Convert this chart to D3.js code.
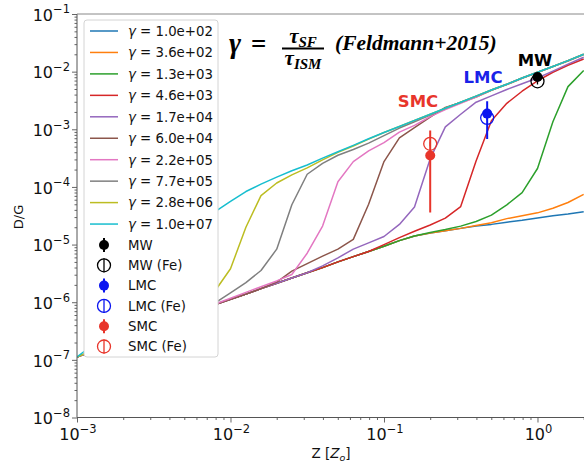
<!DOCTYPE html>
<html><head><meta charset="utf-8">
<script src="https://cdn.jsdelivr.net/npm/d3@7"></script>
<style>body{margin:0;background:#fff}svg{display:block}</style>
</head><body>
<svg id="c" width="584" height="463"></svg>
<script>
// ---------- data ----------
const zGrid = [0.001, 0.00158, 0.00251, 0.00398, 0.00631, 0.00794, 0.01, 0.0126, 0.0158, 0.02, 0.0251, 0.0316, 0.0398, 0.0501, 0.0631, 0.0794, 0.1, 0.126, 0.158, 0.2, 0.251, 0.316, 0.398, 0.501, 0.631, 0.794, 1, 1.26, 1.58, 2.0];
const gammaLabels = ["1.0e+02","3.6e+02","1.3e+03","4.6e+03","1.7e+04","6.0e+04","2.2e+05","7.7e+05","2.8e+06","1.0e+07"];
const dg_1_0e2 = [1.12e-7,1.82e-7,2.88e-7,4.57e-7,7.24e-7,9.12e-7,1.12e-6,1.38e-6,1.72e-6,2.14e-6,2.63e-6,3.24e-6,3.98e-6,5.01e-6,6.17e-6,7.59e-6,9.33e-6,1.17e-5,1.41e-5,1.58e-5,1.74e-5,1.91e-5,2.09e-5,2.24e-5,2.45e-5,2.63e-5,2.88e-5,3.16e-5,3.39e-5,3.72e-5];
const dg_3_6e2 = [1.12e-7,1.82e-7,2.88e-7,4.57e-7,7.24e-7,9.12e-7,1.12e-6,1.38e-6,1.72e-6,2.14e-6,2.63e-6,3.24e-6,3.98e-6,5.01e-6,6.17e-6,7.59e-6,9.33e-6,1.17e-5,1.41e-5,1.58e-5,1.74e-5,1.91e-5,2.14e-5,2.40e-5,2.82e-5,3.16e-5,3.55e-5,4.27e-5,5.37e-5,7.41e-5];
const dg_1_3e3 = [1.12e-7,1.82e-7,2.88e-7,4.57e-7,7.24e-7,9.12e-7,1.12e-6,1.38e-6,1.72e-6,2.14e-6,2.63e-6,3.24e-6,3.98e-6,5.01e-6,6.17e-6,7.59e-6,9.33e-6,1.17e-5,1.41e-5,1.62e-5,1.82e-5,2.09e-5,2.51e-5,3.24e-5,4.90e-5,7.94e-5,2.09e-4,1.35e-3,5.50e-3,1.05e-2];
const dg_4_6e3 = [1.12e-7,1.82e-7,2.88e-7,4.57e-7,7.24e-7,9.12e-7,1.12e-6,1.38e-6,1.72e-6,2.14e-6,2.63e-6,3.24e-6,3.98e-6,5.01e-6,6.17e-6,7.59e-6,1.00e-5,1.32e-5,1.70e-5,2.19e-5,2.88e-5,4.57e-5,2.82e-4,1.41e-3,2.82e-3,4.57e-3,6.92e-3,9.77e-3,1.29e-2,1.66e-2];
const dg_1_7e4 = [1.12e-7,1.82e-7,2.88e-7,4.57e-7,7.24e-7,9.12e-7,1.12e-6,1.38e-6,1.72e-6,2.14e-6,2.63e-6,3.24e-6,4.27e-6,5.89e-6,8.32e-6,1.07e-5,1.38e-5,2.24e-5,4.47e-5,3.09e-4,1.10e-3,1.82e-3,2.95e-3,3.80e-3,4.90e-3,6.17e-3,7.76e-3,1.02e-2,1.35e-2,1.78e-2];
const dg_6_0e4 = [1.12e-7,1.82e-7,2.88e-7,4.57e-7,7.24e-7,9.12e-7,1.12e-6,1.38e-6,1.72e-6,2.24e-6,3.47e-6,4.68e-6,6.31e-6,8.32e-6,1.23e-5,5.01e-5,2.75e-4,7.08e-4,1.07e-3,1.62e-3,2.40e-3,2.92e-3,3.63e-3,4.73e-3,5.96e-3,7.67e-3,9.66e-3,1.22e-2,1.53e-2,1.97e-2];
const dg_2_2e5 = [1.12e-7,1.82e-7,2.88e-7,4.68e-7,7.41e-7,9.33e-7,1.17e-6,1.48e-6,1.86e-6,2.34e-6,3.02e-6,7.08e-6,2.09e-5,1.23e-4,2.75e-4,4.22e-4,5.89e-4,8.91e-4,1.17e-3,1.66e-3,2.19e-3,2.82e-3,3.63e-3,4.79e-3,6.03e-3,7.76e-3,9.77e-3,1.23e-2,1.55e-2,2.00e-2];
const dg_7_7e5 = [1.12e-7,1.82e-7,2.95e-7,4.79e-7,7.76e-7,9.77e-7,1.45e-6,2.19e-6,3.55e-6,8.32e-6,4.90e-5,1.66e-4,2.57e-4,3.55e-4,4.47e-4,5.75e-4,7.76e-4,1.05e-3,1.35e-3,1.76e-3,2.32e-3,2.95e-3,3.76e-3,4.79e-3,6.03e-3,7.76e-3,9.77e-3,1.23e-2,1.55e-2,2.00e-2];
const dg_2_8e6 = [1.12e-7,1.91e-7,3.16e-7,5.37e-7,1.00e-6,1.58e-6,3.80e-6,2.00e-5,7.08e-5,1.17e-4,1.62e-4,2.14e-4,2.95e-4,3.98e-4,5.13e-4,6.76e-4,8.81e-4,1.12e-3,1.43e-3,1.82e-3,2.32e-3,2.95e-3,3.76e-3,4.79e-3,6.03e-3,7.76e-3,9.77e-3,1.23e-2,1.55e-2,2.00e-2];
const dg_1_0e7 = [1.12e-7,2.82e-7,1.78e-6,7.94e-6,2.24e-5,3.72e-5,5.62e-5,8.32e-5,1.12e-4,1.48e-4,1.91e-4,2.40e-4,3.16e-4,4.07e-4,5.25e-4,6.84e-4,8.81e-4,1.12e-3,1.43e-3,1.82e-3,2.32e-3,2.95e-3,3.76e-3,4.79e-3,6.03e-3,7.76e-3,9.77e-3,1.23e-2,1.55e-2,2.00e-2];

const obsNames = ["MW","MW (Fe)","LMC","LMC (Fe)","SMC","SMC (Fe)"];
const obsZ     = [1.0, 1.0, 0.47, 0.47, 0.2, 0.2];
const obsDG    = [8.1e-3, 6.8e-3, 1.87e-3, 1.58e-3, 3.5e-4, 5.6e-4];
const obsLo    = [7.4e-3, 6.0e-3, 6.8e-4, 1.45e-3, 3.6e-5, 5.1e-4];
const obsHi    = [8.8e-3, 7.6e-3, 3.05e-3, 1.72e-3, 9.5e-4, 6.1e-4];
const galaxyLabels = ["MW","LMC","SMC"];

const xTicks = [1e-3, 1e-2, 1e-1, 1];
const yTicks = [1e-8, 1e-7, 1e-6, 1e-5, 1e-4, 1e-3, 1e-2, 1e-1];

// ---------- styles ----------
const seriesDG = [dg_1_0e2,dg_3_6e2,dg_1_3e3,dg_4_6e3,dg_1_7e4,dg_6_0e4,dg_2_2e5,dg_7_7e5,dg_2_8e6,dg_1_0e7];
const colors = ["#1f77b4","#ff7f0e","#2ca02c","#d62728","#9467bd","#8c564b","#e377c2","#7f7f7f","#bcbd22","#17becf"];
const obsColors = ["#000000","#000000","#0a14f0","#0a14f0","#e8352b","#e8352b"];
const FONT = "DejaVu Sans, Verdana, sans-serif";

const W = 584, H = 463;
const L = 77, R = 584, T = 14, B = 417.5;
const svg = d3.select("#c");
const x = d3.scaleLog().domain([1e-3, 2]).range([L, 583.7]);
const y = d3.scaleLog().domain([1e-8, 1e-1]).range([B, T]);

svg.append("clipPath").attr("id","clip").append("rect")
  .attr("x",L).attr("y",T).attr("width",W-L).attr("height",B-T);

// curves
const plot = svg.append("g").attr("clip-path","url(#clip)");
const line = d3.line().x((d,i)=>x(zGrid[i])).y(d=>y(d));
seriesDG.forEach((s,i)=>{
  plot.append("path").attr("d",line(s)).attr("fill","none")
    .attr("stroke",colors[i]).attr("stroke-width",1.5).attr("stroke-linejoin","round");
});

// observations
obsNames.forEach((n,i)=>{
  const fe = n.indexOf("Fe")>=0;
  const cx = x(obsZ[i]), cy = y(obsDG[i]);
  plot.append("line").attr("x1",cx).attr("x2",cx).attr("y1",y(obsLo[i])).attr("y2",y(obsHi[i]))
    .attr("stroke",obsColors[i]).attr("stroke-width",fe?1.3:2);
  if(fe){
    plot.append("circle").attr("cx",cx).attr("cy",cy).attr("r",6.5).attr("fill","none")
      .attr("stroke",obsColors[i]).attr("stroke-width",1.3);
  } else {
    plot.append("circle").attr("cx",cx).attr("cy",cy).attr("r",5).attr("fill",obsColors[i]);
  }
});

// galaxy labels
const labelPos = [[535,65.5],[483,83],[418,106.5]];
const labelCol = ["#000000","#1a22e8","#e8352b"];
galaxyLabels.forEach((t,i)=>{
  svg.append("text").attr("x",labelPos[i][0]).attr("y",labelPos[i][1]).attr("text-anchor","middle")
    .attr("font-family",FONT).attr("font-weight","bold").attr("font-size",16.5)
    .attr("fill",labelCol[i]).text(t);
});

// spines
const spine = "#555";
svg.append("line").attr("x1",L).attr("x2",L).attr("y1",T).attr("y2",B).attr("stroke",spine);
svg.append("line").attr("x1",L).attr("x2",W).attr("y1",B).attr("y2",B).attr("stroke",spine);
svg.append("line").attr("x1",L).attr("x2",W).attr("y1",T).attr("y2",T).attr("stroke","#888");

// ticks
function minors(lo, hi){
  const out=[];
  for(let e=Math.floor(Math.log10(lo)); e<=Math.ceil(Math.log10(hi)); e++)
    for(let k=2;k<=9;k++){ const v=k*Math.pow(10,e); if(v>lo && v<hi) out.push(v); }
  return out;
}
const yAxMaj = d3.axisLeft(y).tickValues(yTicks).tickSize(5).tickFormat(()=>"");
const yAxMin = d3.axisLeft(y).tickValues(minors(1e-8,1e-1)).tickSize(2.5).tickFormat(()=>"");
const xAxMaj = d3.axisBottom(x).tickValues(xTicks).tickSize(5).tickFormat(()=>"");
const xAxMin = d3.axisBottom(x).tickValues(minors(1e-3,2.05)).tickSize(2.5).tickFormat(()=>"");
[[yAxMaj,`translate(${L},0)`],[yAxMin,`translate(${L},0)`],[xAxMaj,`translate(0,${B})`],[xAxMin,`translate(0,${B})`]]
 .forEach(([ax,tr])=>{
   const g=svg.append("g").attr("transform",tr).call(ax);
   g.select(".domain").remove();
   g.selectAll("line").attr("stroke",spine).attr("stroke-width",0.9);
 });

// tick labels
function powLabel(px, py, anchor, v){
  const e = Math.round(Math.log10(v));
  const t = svg.append("text").attr("x",px).attr("y",py).attr("text-anchor",anchor)
    .attr("font-family",FONT).attr("font-size",16).attr("fill","#111");
  t.append("tspan").text("10");
  t.append("tspan").attr("dy",-7.4).attr("font-size",11.5).text(e<0?("\u2212"+(-e)):String(e));
}
yTicks.forEach(v=>powLabel(70, y(v)+6.7, "end", v));
xTicks.forEach(v=>powLabel(x(v)+1, 440, "middle", v));

// axis titles
svg.append("text").attr("transform","translate(23,217) rotate(-90)").attr("text-anchor","middle")
  .attr("font-family",FONT).attr("font-size",13).attr("fill","#111").text("D/G");
const xt = svg.append("text").attr("x",331).attr("y",458).attr("text-anchor","middle")
  .attr("font-family",FONT).attr("font-size",13.5).attr("fill","#111");
xt.append("tspan").text("Z [");
xt.append("tspan").attr("font-style","italic").text("Z");
xt.append("tspan").attr("dy",3).attr("font-size",9.5).attr("font-style","italic").text("o");
xt.append("tspan").attr("dy",-3).text("]");

// formula title
const SERIF = "Liberation Serif, Times New Roman, serif";
svg.append("text").attr("x",229).attr("y",53).attr("font-family",SERIF).attr("font-weight","bold")
  .attr("font-style","italic").attr("font-size",29).text("\u03b3");
svg.append("text").attr("x",251).attr("y",53).attr("font-family",SERIF).attr("font-weight","bold")
  .attr("font-size",27).text("=");
const num = svg.append("text").attr("x",303).attr("y",43).attr("text-anchor","middle")
  .attr("font-family",SERIF).attr("font-weight","bold").attr("font-style","italic").attr("font-size",21);
num.append("tspan").text("\u03c4");
num.append("tspan").attr("dy",4).attr("font-size",15).text("SF");
svg.append("line").attr("x1",282).attr("x2",324).attr("y1",48.5).attr("y2",48.5).attr("stroke","#000").attr("stroke-width",1.8);
const den = svg.append("text").attr("x",303).attr("y",65).attr("text-anchor","middle")
  .attr("font-family",SERIF).attr("font-weight","bold").attr("font-style","italic").attr("font-size",21);
den.append("tspan").text("\u03c4");
den.append("tspan").attr("dy",4).attr("font-size",15).text("ISM");
svg.append("text").attr("x",335).attr("y",50).attr("font-family",SERIF).attr("font-weight","bold")
  .attr("font-style","italic").attr("font-size",21.5).text("(Feldmann+2015)");

// legend
const lg = svg.append("g");
lg.append("rect").attr("x",84).attr("y",20).attr("width",134).attr("height",337).attr("rx",3)
  .attr("fill","#fff").attr("stroke","#d4d4d4").attr("stroke-width",1);
gammaLabels.forEach((lab,i)=>{
  const ry = 31 + 21.45*i;
  lg.append("line").attr("x1",90).attr("x2",118).attr("y1",ry).attr("y2",ry)
    .attr("stroke",colors[i]).attr("stroke-width",1.5);
  const t = lg.append("text").attr("x",128).attr("y",ry+4.8).attr("font-family",FONT)
    .attr("font-size",13.3).attr("fill","#111");
  t.append("tspan").attr("font-style","italic").text("\u03b3");
  t.append("tspan").text(" = "+lab);
});
obsNames.forEach((n,i)=>{
  const ry = 245 + 20.3*i;
  const fe = n.indexOf("Fe")>=0;
  lg.append("line").attr("x1",104).attr("x2",104).attr("y1",ry-7).attr("y2",ry+7)
    .attr("stroke",obsColors[i]).attr("stroke-width",fe?1.3:2);
  if(fe) lg.append("circle").attr("cx",104).attr("cy",ry).attr("r",6.5).attr("fill","none")
      .attr("stroke",obsColors[i]).attr("stroke-width",1.3);
  else lg.append("circle").attr("cx",104).attr("cy",ry).attr("r",5).attr("fill",obsColors[i]);
  lg.append("text").attr("x",128).attr("y",ry+4.8).attr("font-family",FONT)
    .attr("font-size",13.3).attr("fill","#111").text(n);
});
</script>
</body></html>
